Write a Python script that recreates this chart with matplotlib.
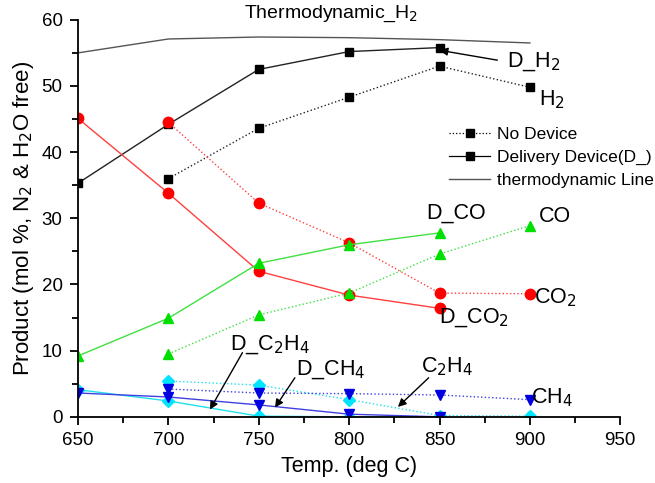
import matplotlib.pyplot as plt
from matplotlib.ticker import MultipleLocator

plt.rcParams['font.family'] = ['Liberation Sans', 'DejaVu Sans']

# product composition (mol %, N2 & H2O free) vs temperature
temp_all = [650, 700, 750, 800, 850, 900]
temp_dev = [650, 700, 750, 800, 850]
temp_nodev = [700, 750, 800, 850, 900]

thermo_h2 = [55.0, 57.1, 57.4, 57.3, 57.0, 56.5]

d_h2 = [35.3, 44.2, 52.5, 55.2, 55.8]
h2 = [36.0, 43.6, 48.3, 53.0, 49.8]

d_co2 = [45.1, 33.8, 22.0, 18.4, 16.4]
co2 = [44.5, 32.3, 26.3, 18.7, 18.6]

d_co = [9.2, 14.9, 23.2, 26.0, 27.8]
co = [9.5, 15.4, 18.7, 24.6, 28.9]

d_ch4 = [3.6, 3.0, 1.8, 0.4, 0.0]
ch4 = [4.2, 3.6, 3.5, 3.3, 2.6]

d_c2h4 = [4.1, 2.4, 0.1, 0.0, 0.0]
c2h4 = [5.4, 4.8, 2.6, 0.2, 0.1]

fig = plt.figure(figsize=(6.55, 4.83), dpi=100)
ax = fig.add_axes([0.119, 0.137, 0.828, 0.822])

ax.plot(temp_all, thermo_h2, color='#555555', lw=1.0)
ax.plot(temp_dev, d_h2, color='#222222', lw=1.0, marker='s', ms=6, mfc='black', mec='black')
ax.plot(temp_nodev, h2, color='#222222', lw=1.0, ls=':', marker='s', ms=6, mfc='black', mec='black')

ax.plot(temp_dev, d_co2, color='#ff4040', lw=1.0, marker='o', ms=7.5, mfc='red', mec='red')
ax.plot(temp_nodev, co2, color='#ff4040', lw=1.0, ls=':', marker='o', ms=7.5, mfc='red', mec='red')

ax.plot(temp_dev, d_co, color='#40e040', lw=1.0, marker='^', ms=7.5, mfc='#00e000', mec='#00e000')
ax.plot(temp_nodev, co, color='#40e040', lw=1.0, ls=':', marker='^', ms=7.5, mfc='#00e000', mec='#00e000')

ax.plot(temp_dev, d_c2h4, color='#20e0f0', lw=1.0, marker='D', ms=6, mfc='#00e5ff', mec='#00e5ff')
ax.plot(temp_nodev, c2h4, color='#20e0f0', lw=1.0, ls=':', marker='D', ms=6, mfc='#00e5ff', mec='#00e5ff')

ax.plot(temp_dev, d_ch4, color='#4040e0', lw=1.0, marker='v', ms=7.5, mfc='#0000e0', mec='#0000e0')
ax.plot(temp_nodev, ch4, color='#4040e0', lw=1.0, ls=':', marker='v', ms=7.5, mfc='#0000e0', mec='#0000e0')

ax.set_xlim(650, 950)
ax.set_ylim(0, 60)
ax.xaxis.set_major_locator(MultipleLocator(50))
ax.xaxis.set_minor_locator(MultipleLocator(25))
ax.yaxis.set_major_locator(MultipleLocator(10))
ax.yaxis.set_minor_locator(MultipleLocator(5))
for s in ['top', 'right']:
    ax.spines[s].set_visible(False)
ax.spines['left'].set_linewidth(1.3)
ax.spines['bottom'].set_linewidth(1.3)
ax.tick_params(which='major', length=6, width=1.3, labelsize=13.5, pad=5)
ax.tick_params(which='minor', length=4, width=1.3)
ax.set_xlabel('Temp. (deg C)', fontsize=15.5, labelpad=5)
ax.set_ylabel('Product (mol %, N$_2$ & H$_2$O free)', fontsize=16, labelpad=4)

# legend built from proxy lines
l1, = ax.plot([], [], color='black', lw=0.9, ls=':', marker='s', ms=6)
l2, = ax.plot([], [], color='black', lw=0.9, marker='s', ms=6)
l3, = ax.plot([], [], color='#555555', lw=1.0)
ax.legend([l1, l2, l3], ['No Device', 'Delivery Device(D_)', 'thermodynamic Line'],
          loc='upper left', bbox_to_anchor=(0.655, 0.77), frameon=False,
          fontsize=12.5, handlelength=2.4, handletextpad=0.4, labelspacing=0.45)

tk = dict(fontsize=15.5, ha='center', va='center')
ax.text(790, 60.9, 'Thermodynamic_H$_2$', clip_on=False, fontsize=14, ha='center', va='center')
ax.text(912, 47.9, 'H$_2$', **tk)
ax.text(902, 53.6, 'D_H$_2$', **tk)
ax.text(859, 30.8, 'D_CO', **tk)
ax.text(914, 30.2, 'CO', **tk)
ax.text(914, 18.0, 'CO$_2$', **tk)
ax.text(869, 15.0, 'D_CO$_2$', **tk)
ax.text(912, 2.9, 'CH$_4$', **tk)
ax.text(756, 10.9, 'D_C$_2$H$_4$', **tk)
ax.text(790, 7.1, 'D_CH$_4$', **tk)
ax.text(854, 7.6, 'C$_2$H$_4$', **tk)

# pointer arrows: (tail, head) in data units
arrows = [((882, 53.9), (850, 55.4)),
          ((741, 9.7), (723, 1.1)),
          ((770, 5.9), (759, 1.4)),
          ((844, 5.9), (827, 1.5))]
for tail, head in arrows:
    ax.annotate('', xy=head, xytext=tail,
                arrowprops=dict(arrowstyle='-|>', color='black', lw=1.0,
                                mutation_scale=12, shrinkA=0, shrinkB=0))

fig.savefig('out.png', dpi=100)
